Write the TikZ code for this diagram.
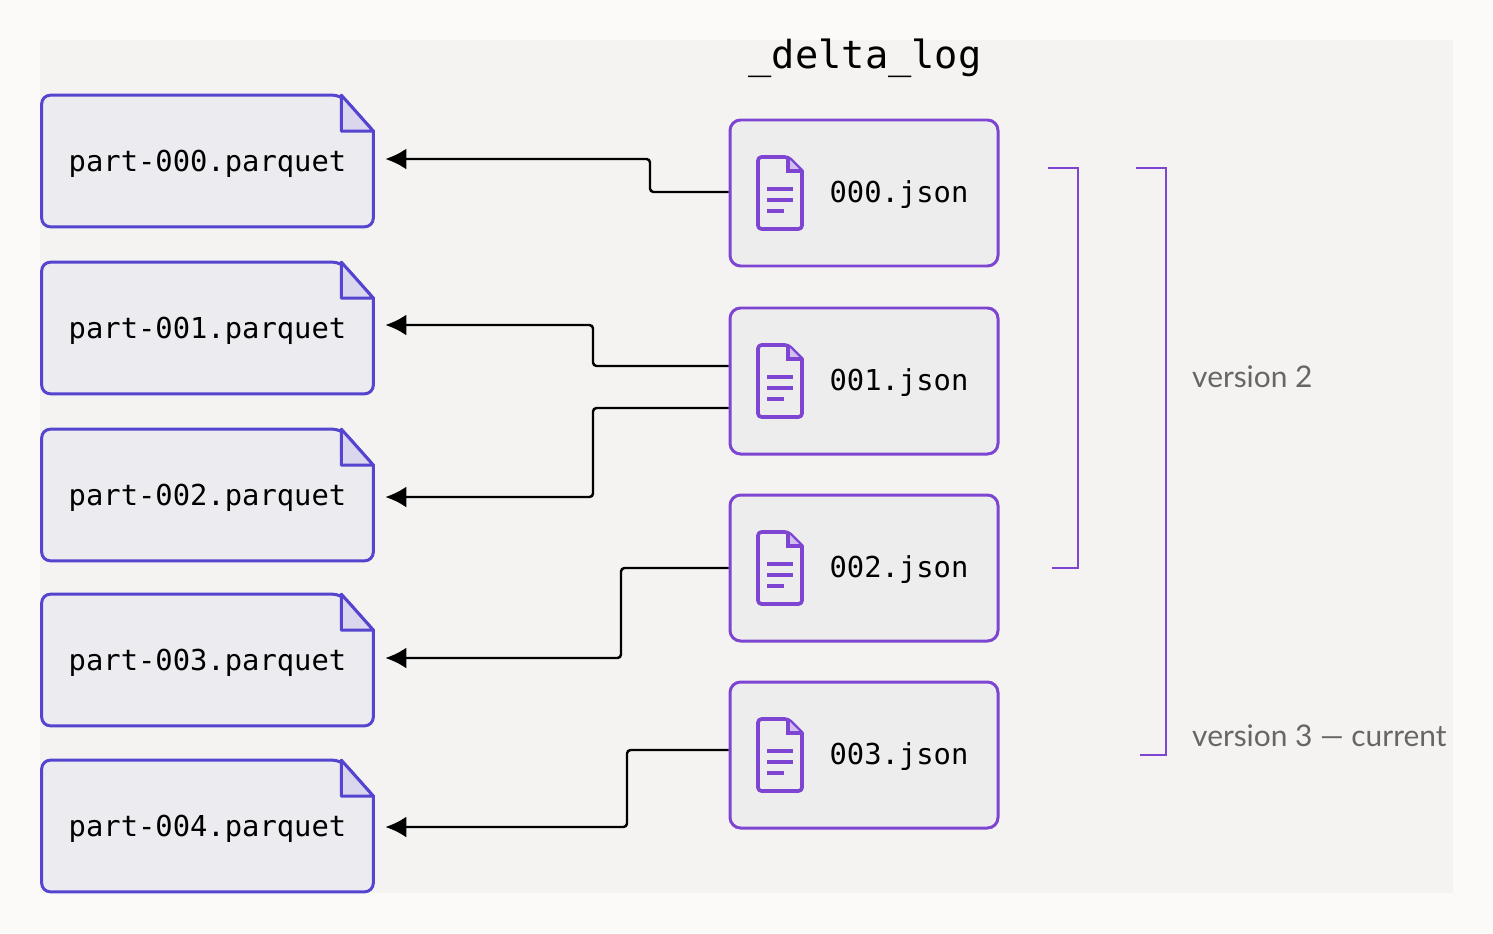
\documentclass[tikz,border=0pt]{standalone}
\usepackage{fontspec}
\setmainfont{Lato}
\newfontfamily\monof{DejaVu Sans Mono}
\usetikzlibrary{positioning,calc,arrows.meta}
\definecolor{bgc}{HTML}{F4F3F1}
\definecolor{pqline}{HTML}{5544D0}
\definecolor{pqfill}{HTML}{ECEBEF}
\definecolor{pqfold}{HTML}{D9D6EE}
\definecolor{jsline}{HTML}{7D45D2}
\definecolor{jsfill}{HTML}{EEEDED}
\definecolor{vtext}{HTML}{666666}

\begin{document}
\begin{tikzpicture}[
		x=0.02cm, y=-0.02cm,
		pq/.style={minimum width=331*0.02cm, minimum height=131*0.02cm, inner sep=0pt,
			font=\monof\fontsize{16.4}{18}\selectfont},
		js/.style={draw=jsline, line width=1.7pt, fill=jsfill, rounded corners=6pt,
			minimum width=268*0.02cm, minimum height=146*0.02cm, inner sep=0pt},
		jtxt/.style={font=\monof\fontsize{16.4}{18}\selectfont, inner sep=0pt},
		icon/.style={jsline, line width=2.1pt},
		link/.style={-{Latex[length=12pt,width=12pt]}, line width=1.4pt, rounded corners=2pt},
		brk/.style={draw=jsline, line width=1.4pt},
		ver/.style={anchor=west, text=vtext, font=\fontsize{17}{19}\selectfont}
		]
		\useasboundingbox (0,0) rectangle (1493,933);
		\fill[white!60!bgc] (0,0) rectangle (1493,933);
		\fill[bgc] (40,40) rectangle (1453,893);
		
		\node[font=\monof\fontsize{22}{24}\selectfont] (title) at (865,58) {\_delta\_log};
		
		% parquet files
		\foreach \i/\y in {0/161,1/328,2/495,3/660,4/826} {
			\node[pq] (p\i) at (207.5,\y) {};
			\filldraw[draw=pqline, fill=pqfill, line width=1.7pt, rounded corners=5pt]
				(p\i.north west) -- ([xshift=-32*0.02cm]p\i.north east)
				[sharp corners] -- ([yshift=-36*0.02cm]p\i.north east)
				[rounded corners=5pt] -- (p\i.south east) -- (p\i.south west) -- cycle;
			\filldraw[draw=pqline, fill=pqfold, line width=1.7pt, line join=round]
				([xshift=-32*0.02cm]p\i.north east) -- ([xshift=-32*0.02cm,yshift=-36*0.02cm]p\i.north east)
				-- ([yshift=-36*0.02cm]p\i.north east) -- cycle;
			\node[pq, anchor=center, yshift=-3*0.02cm] (pt\i) at (p\i.center) {part-00\i.parquet};
		}
		
		% delta log entries
		\foreach \i/\y in {0/193,1/381,2/568,3/755} {
			\node[js] (j\i) at (864,\y) {};
			\node[jtxt] (jt\i) at (899,\y+2) {00\i.json};
			\coordinate (ic\i) at (758,\y-36);
			\draw[icon, line join=round, rounded corners=2pt]
				(ic\i) -- ++(30,0) [sharp corners] -- ++(14,14) [rounded corners=2pt] -- ++(0,58) -- ++(-44,0) -- cycle;
			\fill[jsline!35] ($(ic\i)+(31,2)$) -- ++(0,11) -- ++(11,0) -- cycle;
			\draw[icon] ($(ic\i)+(30,0)$) -- ++(0,14) -- ++(14,0);
			\draw[icon]
				($(ic\i)+(9,32)$) -- ++(26,0)
				($(ic\i)+(9,43)$) -- ++(26,0)
				($(ic\i)+(9,54)$) -- ++(17,0);
		}
		
		% links
		\draw[link] ([yshift=1*0.02cm]j0.west) -| (650,159) -- ([xshift=12*0.02cm]p0.east |- 0,159);
		\draw[link] ([yshift=15*0.02cm]j1.west) -| (593,325) -- ([xshift=12*0.02cm]p1.east |- 0,325);
		\draw[link] ([yshift=-27*0.02cm]j1.west) -| (593,497) -- ([xshift=12*0.02cm]p2.east |- 0,497);
		\draw[link] (j2.west) -| (621,658) -- ([xshift=12*0.02cm]p3.east |- 0,658);
		\draw[link] ([yshift=5*0.02cm]j3.west) -| (627,827) -- ([xshift=12*0.02cm]p4.east |- 0,827);
		
		% versions
		\draw[brk] (1048,168) -- (1078,168) -- (1078,568) -- (1052,568);
		\draw[brk] (1136,168) -- (1166,168) -- (1166,755) -- (1140,755);
		\node[ver] (v2) at (1186,377) {version 2};
		\node[ver] (v3) at (1186,736) {version 3 — current};
	\end{tikzpicture}
\end{document}
